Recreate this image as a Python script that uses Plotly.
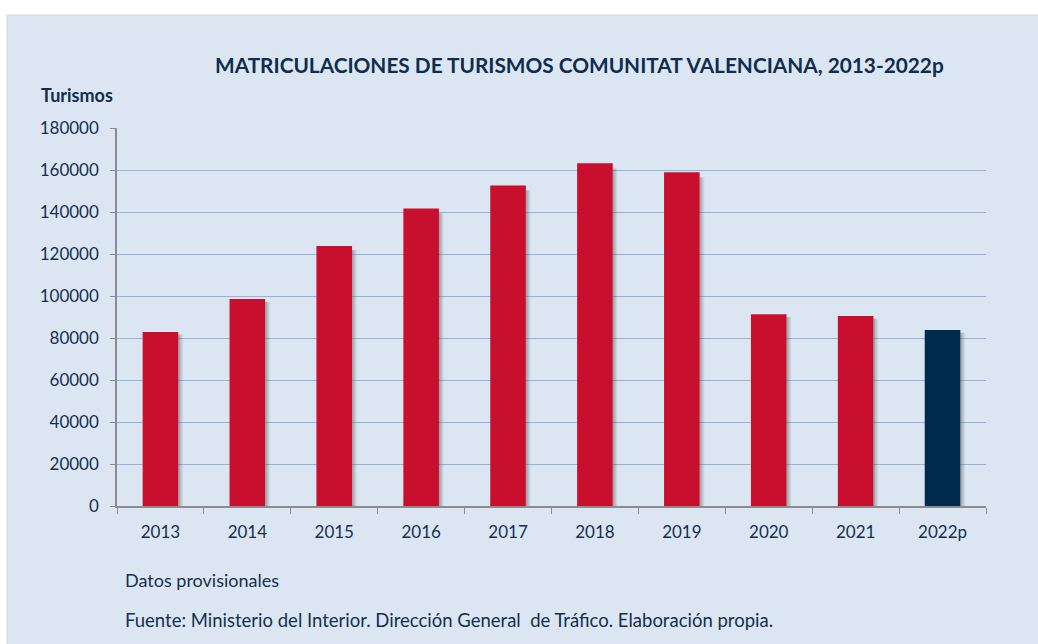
import plotly.graph_objects as go

years = ["2013", "2014", "2015", "2016", "2017", "2018", "2019", "2020", "2021", "2022p"]
values = [82900, 98600, 123800, 141700, 152600, 163200, 158900, 91300, 90500, 83800]
bar_colors = ["#C8102E"] * 9 + ["#002A4B"]

title_text = "MATRICULACIONES DE TURISMOS COMUNITAT VALENCIANA, 2013-2022p"
y_title = "Turismos"
note1 = "Datos provisionales"
note2 = "Fuente: Ministerio del Interior. Dirección General  de Tráfico. Elaboración propia."

W, H = 1038, 644
L, R, T, B = 117, 52, 128, 138
PW, PH = W - L - R, H - T - B
FONT = "Lato, Open Sans, sans-serif"
TXT = "#13304F"

fig = go.Figure()
# soft shadow on the right side of each bar
for off, alpha in [(0.205, 0.42), (0.222, 0.26), (0.239, 0.12)]:
    fig.add_trace(go.Bar(x=years, y=[v * 0.985 for v in values], width=0.018, offset=off,
                         marker=dict(color=f"rgba(80,80,80,{alpha})", line=dict(width=0)),
                         hoverinfo="skip", showlegend=False))
fig.add_trace(go.Bar(x=years, y=values, width=0.41,
                     marker=dict(color=bar_colors, line=dict(width=0)),
                     showlegend=False))

fig.update_layout(
    width=W, height=H,
    margin=dict(l=L, r=R, t=T, b=B),
    paper_bgcolor="white",
    plot_bgcolor="#F2F2F2",
    barmode="overlay",
    font=dict(family=FONT, color=TXT, size=17),
    shapes=[dict(type="rect", xref="paper", yref="paper",
                 x0=-(L - 7) / PW, x1=1 + (R + 5) / PW,
                 y0=-(B + 5) / PH, y1=1 + (T - 15) / PH,
                 fillcolor="#DCE6F2", line=dict(color="#D6D6D6", width=1), layer="below")],
    annotations=[
        dict(text=f"<b>{title_text}</b>", xref="paper", yref="paper",
             x=(579.5 - L) / PW, y=1 + (T - 65) / PH,
             xanchor="center", yanchor="middle", showarrow=False,
             font=dict(size=20.8, color="#0F2D4E", family=FONT)),
        dict(text=f"<b>{y_title}</b>", xref="paper", yref="paper",
             x=(39 - L) / PW, y=1 + (T - 95) / PH,
             xanchor="left", yanchor="middle", showarrow=False,
             font=dict(size=18, color="#0F2D4E", family=FONT)),
        dict(text=note1, xref="paper", yref="paper",
             x=(123 - L) / PW, y=-(580 - (H - B)) / PH,
             xanchor="left", yanchor="middle", showarrow=False,
             font=dict(size=18, color=TXT, family=FONT)),
        dict(text=note2, xref="paper", yref="paper",
             x=(123 - L) / PW, y=-(620 - (H - B)) / PH,
             xanchor="left", yanchor="middle", showarrow=False,
             font=dict(size=18.5, color=TXT, family=FONT)),
    ],
)

fig.update_xaxes(
    type="category", showline=True, linecolor="#8C8C8C", linewidth=1.5,
    ticks="outside", tickson="boundaries", ticklen=6, tickcolor="#8C8C8C",
    showgrid=False, tickfont=dict(size=17, color=TXT), fixedrange=True,
    ticklabelstandoff=10,
)
fig.update_yaxes(
    range=[0, 180000], dtick=20000, tickformat="d",
    showline=True, linecolor="#8C8C8C", linewidth=1.5,
    ticks="outside", ticklen=5, tickcolor="#8C8C8C",
    showgrid=True, gridcolor="#95B3D7", gridwidth=1.2,
    zeroline=False, tickfont=dict(size=17, color=TXT),
    ticklabelstandoff=8,
)

fig.write_html("out.html", config={"displayModeBar": False},
               post_script="document.body.style.margin='0';")
